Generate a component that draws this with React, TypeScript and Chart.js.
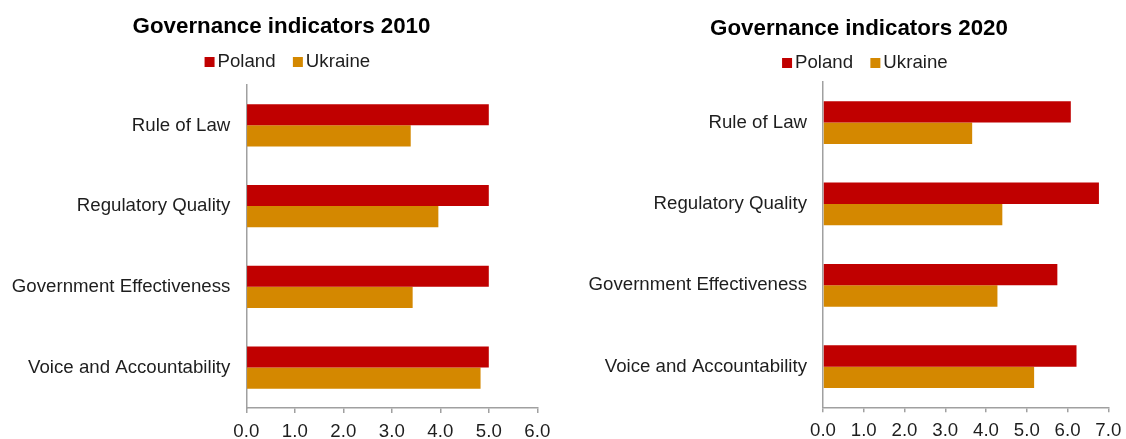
import React, { useEffect, useRef } from 'react';
import { Chart, registerables } from 'chart.js';

Chart.register(...registerables);

// ---- data ----
const categories = ['Rule of Law', 'Regulatory Quality', 'Government Effectiveness', 'Voice and Accountability'];
const seriesNames = ['Poland', 'Ukraine'];
const titles = ['Governance indicators 2010', 'Governance indicators 2020'];

const poland2010 = [5.0, 5.0, 5.0, 5.0];
const ukraine2010 = [3.39, 3.96, 3.43, 4.83];
const poland2020 = [6.08, 6.77, 5.75, 6.22];
const ukraine2020 = [3.66, 4.4, 4.28, 5.18];

const xTicks2010 = [0, 1, 2, 3, 4, 5, 6];
const xTicks2020 = [0, 1, 2, 3, 4, 5, 6, 7];

// ---- styles ----
const RED = '#C00000';
const ORANGE = '#D48800';
const seriesColors = [RED, ORANGE];
const AXIS = '#A0A0A0';
const TEXT = '#1e1e1e';
const FONT = '"Liberation Sans", Arial, Helvetica, sans-serif';

type PanelLayout = {
  yWidth: number;
  xHeight: number;
  rightGap: number;
  titleTop: number;
  titleBottom: number;
  spacer: number;
};

// legend swatch: a 10x10 square placed inside a wider transparent image,
// so it sits just before the legend text
function makeSwatch(color: string): HTMLCanvasElement {
  const c = document.createElement('canvas');
  c.width = 40;
  c.height = 10;
  const ctx = c.getContext('2d');
  if (ctx) {
    ctx.fillStyle = color;
    ctx.fillRect(24, 0, 10, 10);
  }
  return c;
}

function buildConfig(title: string, poland: number[], ukraine: number[], xTicks: number[], L: PanelLayout): any {
  const font = { family: FONT, size: 18.67 };
  const swatches = seriesColors.map(makeSwatch);
  return {
    type: 'bar',
    data: {
      labels: categories,
      datasets: [
        {
          label: seriesNames[0],
          data: poland,
          backgroundColor: seriesColors[0],
          borderWidth: 0,
          categoryPercentage: 0.525,
          barPercentage: 1,
        },
        {
          label: seriesNames[1],
          data: ukraine,
          backgroundColor: seriesColors[1],
          borderWidth: 0,
          categoryPercentage: 0.525,
          barPercentage: 1,
        },
      ],
    },
    options: {
      indexAxis: 'y',
      responsive: true,
      maintainAspectRatio: false,
      animation: false,
      events: [],
      layout: { padding: 0 },
      plugins: {
        title: {
          display: true,
          text: title,
          color: '#000',
          font: { family: FONT, size: 22.33, weight: 'bold', lineHeight: 0.9 },
          padding: { top: L.titleTop, bottom: L.titleBottom },
        },
        legend: {
          display: true,
          position: 'top',
          labels: {
            usePointStyle: true,
            pointStyleWidth: 15.33,
            boxWidth: 10,
            boxHeight: 10,
            padding: 5.6,
            color: TEXT,
            font,
            generateLabels: (chart: any) =>
              Chart.defaults.plugins.legend.labels
                .generateLabels(chart)
                .map((item: any, i: number) => ({ ...item, pointStyle: swatches[i], lineWidth: 0 })),
          },
        },
        subtitle: {
          display: L.spacer > 0,
          text: '',
          position: 'top',
          weight: 500,
          font: { family: FONT, size: 1, lineHeight: 1 },
          padding: { top: Math.max(L.spacer - 1, 0), bottom: 0 },
        },
        tooltip: { enabled: false },
      },
      scales: {
        x: {
          type: 'linear',
          position: 'bottom',
          min: xTicks[0],
          max: xTicks[xTicks.length - 1],
          afterBuildTicks: (s: any) => {
            s.ticks = xTicks.map((v) => ({ value: v }));
          },
          ticks: {
            padding: 7.5,
            color: TEXT,
            font,
            callback: (v: any) => Number(v).toFixed(1),
          },
          grid: {
            drawOnChartArea: false,
            drawTicks: true,
            tickLength: 5,
            color: AXIS,
            lineWidth: 1.5,
          },
          border: { display: true, color: AXIS, width: 1.5 },
          afterFit: (s: any) => {
            s.height = L.xHeight;
          },
        },
        y: {
          type: 'category',
          position: 'left',
          ticks: { padding: 16, color: TEXT, font },
          grid: { display: false, drawTicks: false },
          border: { display: true, color: AXIS, width: 1.5 },
          afterFit: (s: any) => {
            s.width = L.yWidth;
          },
        },
        // empty spacer on the right so the title/legend stay centred on the canvas
        yRight: {
          type: 'category',
          axis: 'y',
          position: 'right',
          display: true,
          ticks: { display: false },
          grid: { display: false, drawTicks: false },
          border: { display: false },
          afterFit: (s: any) => {
            s.width = L.rightGap;
          },
        },
      },
    },
  };
}

function Panel({ config, style }: { config: any; style: React.CSSProperties }) {
  const ref = useRef<HTMLCanvasElement | null>(null);
  useEffect(() => {
    if (!ref.current) return;
    const chart = new Chart(ref.current, config);
    return () => chart.destroy();
  }, [config]);
  return (
    <div style={{ position: 'absolute', top: 0, ...style }}>
      <canvas ref={ref} />
    </div>
  );
}

const layoutLeft: PanelLayout = {
  yWidth: 246.3,
  xHeight: 31,
  rightGap: 25.7,
  titleTop: 16.65,
  titleBottom: 10.02,
  spacer: 3.96,
};

const layoutRight: PanelLayout = {
  yWidth: 235,
  xHeight: 31.7,
  rightGap: 21.7,
  titleTop: 19.15,
  titleBottom: 8.4,
  spacer: 0,
};

const configLeft = buildConfig(titles[0], poland2010, ukraine2010, xTicks2010, layoutLeft);
const configRight = buildConfig(titles[1], poland2020, ukraine2020, xTicks2020, layoutRight);

export default function App() {
  return (
    <div
      style={{
        position: 'absolute',
        left: 0,
        top: 0,
        width: 1126,
        height: 439,
        overflow: 'hidden',
        background: '#fff',
      }}
    >
      <Panel config={configLeft} style={{ left: 0, width: 563, height: 439 }} />
      <Panel config={configRight} style={{ left: 588, width: 542, height: 439 }} />
    </div>
  );
}
